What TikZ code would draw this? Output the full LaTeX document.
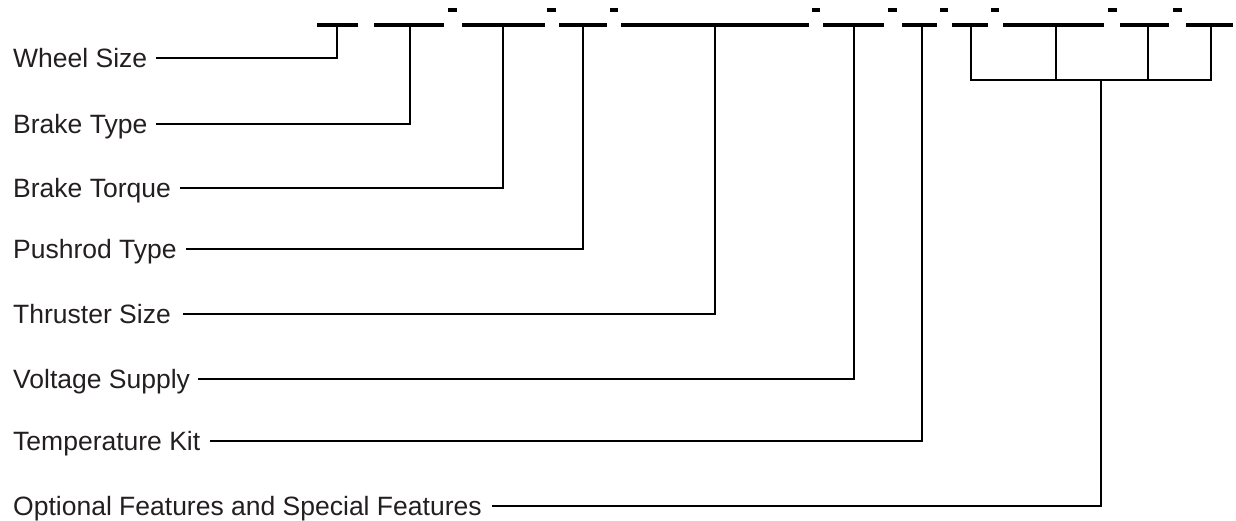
\documentclass[tikz,border=0pt]{standalone}
\usepackage{fontspec}
\setmainfont{Liberation Sans}
\definecolor{txt}{HTML}{231F20}
\begin{document}
\begin{tikzpicture}[x=1pt,y=-1pt,
  lbl/.style={anchor=west,inner sep=0pt,text height=19pt,text depth=0pt,font=\fontsize{26.5}{30}\selectfont,text=txt},
  seg/.style={line width=3.3pt},
  dsh/.style={line width=3.3pt},
  conn/.style={line width=2.3pt}]
\useasboundingbox (0,0) rectangle (1236,520);
% top code segments
\foreach \a/\b in {317/358,374/444,462/545,559/607,621/809,823/884,902/937,952/988,1003/1104,1120/1169,1186/1233}
  \draw[seg] (\a,25) -- (\b,25);
\foreach \a/\b in {448/457,547/556,610/618,812/820,888/897,940/948,991/999,1108/1117,1173/1182}
  \draw[dsh] (\a,10) -- (\b,10);
% tick coordinates
\coordinate (t1) at (337,25);
\coordinate (t2) at (410,25);
\coordinate (t3) at (503,25);
\coordinate (t4) at (583,25);
\coordinate (t5) at (715,25);
\coordinate (t6) at (854,25);
\coordinate (t7) at (922,25);
\coordinate (o1) at (971,25);
\coordinate (o2) at (1056,25);
\coordinate (o3) at (1148,25);
\coordinate (o4) at (1211,25);
\coordinate (ob) at (1101,80);
% labels
\node[lbl] (l1) at (13,58) {Wheel Size};
\node[lbl] (l2) at (13,124) {Brake Type};
\node[lbl] (l3) at (13,188) {Brake Torque};
\node[lbl] (l4) at (13,249) {Pushrod Type};
\node[lbl] (l5) at (13,314) {Thruster Size};
\node[lbl] (l6) at (13,379) {Voltage Supply};
\node[lbl] (l7) at (13,441) {Temperature Kit};
\node[lbl] (l8) at (13,506) {Optional Features and Special Features};
% connectors
\draw[conn] ([xshift=9pt]l1.east) -| (t1);
\draw[conn] ([xshift=9pt]l2.east) -| (t2);
\draw[conn] ([xshift=9pt]l3.east) -| (t3);
\draw[conn] ([xshift=9pt]l4.east) -| (t4);
\draw[conn] ([xshift=12pt]l5.east) -| (t5);
\draw[conn] ([xshift=8pt]l6.east) -| (t6);
\draw[conn] ([xshift=10pt]l7.east) -| (t7);
\draw[conn] (o1) |- (ob) -| (o4);
\draw[conn] (o2) -- (o2 |- ob);
\draw[conn] (o3) -- (o3 |- ob);
\draw[conn] ([xshift=10pt]l8.east) -| (ob);
\end{tikzpicture}
\end{document}
